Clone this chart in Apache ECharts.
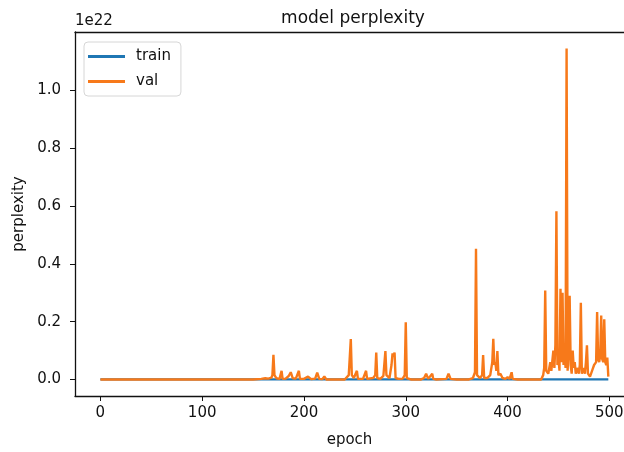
<!DOCTYPE html>
<html>
<head>
<meta charset="utf-8">
<script src="https://cdn.jsdelivr.net/npm/echarts@6/dist/echarts.min.js"></script>
<style>
  html, body { margin: 0; padding: 0; background: #fff; }
  #main { width: 624px; height: 452px; }
</style>
</head>
<body>
<div id="main"></div>
<script>
// values in units of 1e22
const trainEpochs = [0, 499]
const trainValues = [0, 0]

const valEpochs = [
  0, 150, 158, 162, 165, 168, 169, 170, 171, 173, 176, 178, 179, 182, 185, 187, 189, 192, 195, 196,
  200, 204, 207, 211, 213, 215, 218, 220, 222, 240, 244, 246, 247, 249, 252, 253, 258, 261, 262, 268,
  270, 271, 272, 275, 278, 280, 281, 284, 286, 287, 288, 289, 290, 293, 297, 299, 300, 301, 305, 315,
  318, 320, 322, 326, 327, 330, 340, 342, 344, 350, 362, 366, 368, 369, 370, 373, 375, 376, 377, 380,
  383, 385, 386, 387, 388, 389, 390, 391, 393, 395, 398, 400, 402, 404, 405, 410, 433, 435, 436, 437,
  438, 440, 442, 443, 445, 446, 447, 448, 449, 450, 451, 452, 453, 454, 455, 456, 457, 458, 459, 460,
  461, 462, 463, 464, 465, 466, 467, 469, 470, 471, 472, 473, 475, 476, 477, 478, 479, 481, 483, 485,
  487, 488, 489, 490, 491, 492, 493, 494, 495, 496, 497, 498, 499
]
const valValues = [
  0, 0, 0.002, 0.004, 0.003, 0.006, 0.015, 0.085, 0.015, 0.004, 0.002, 0.03, 0.002, 0.003, 0.012, 0.025, 0.004, 0.003, 0.03, 0.002,
  0.002, 0.01, 0.001, 0.003, 0.024, 0.002, 0.001, 0.01, 0, 0, 0.015, 0.14, 0.015, 0.005, 0.03, 0.002, 0.002, 0.03, 0.002, 0.005,
  0.015, 0.093, 0.005, 0.002, 0.012, 0.098, 0.015, 0.005, 0.05, 0.09, 0.08, 0.093, 0.005, 0.002, 0.003, 0.015, 0.198, 0.005, 0, 0,
  0.005, 0.02, 0.002, 0.02, 0.002, 0, 0.002, 0.02, 0.002, 0, 0, 0.005, 0.025, 0.452, 0.015, 0.005, 0.015, 0.084, 0.005, 0.005,
  0.015, 0.06, 0.141, 0.05, 0.06, 0.03, 0.098, 0.015, 0.02, 0.005, 0.002, 0.008, 0.002, 0.025, 0.002, 0, 0, 0.015, 0.04, 0.308,
  0.03, 0.02, 0.06, 0.03, 0.1, 0.04, 0.12, 0.582, 0.05, 0.08, 0.03, 0.314, 0.06, 0.3, 0.05, 0.1, 0.04, 1.145, 0.03, 0.1,
  0.29, 0.05, 0.02, 0.1, 0.04, 0.06, 0.02, 0.04, 0.02, 0.05, 0.265, 0.02, 0.04, 0.02, 0.06, 0.118, 0.02, 0.01, 0.03, 0.05,
  0.06, 0.233, 0.07, 0.06, 0.08, 0.221, 0.07, 0.06, 0.208, 0.06, 0.05, 0.076, 0.01
]

const xTicks = [0, 100, 200, 300, 400, 500]
const yTicks = [0, 0.2, 0.4, 0.6, 0.8, 1.0]

const font = 'DejaVu Sans'
const chart = echarts.init(document.getElementById('main'))

const pairs = (xs, ys) => xs.map((x, i) => [x, ys[i]])

// the plot frame is cut off at the right edge of the picture, so no right spine
const xMin = -24.95
const xMax = 514.4
const frame = { show: true, onZero: false, lineStyle: { color: '#111', width: 1.3 } }

chart.setOption({
  animation: false,
  title: {
    text: 'model perplexity',
    left: 348,
    top: 5,
    textAlign: 'center',
    textStyle: { fontFamily: font, fontSize: 17, fontWeight: 'normal', color: '#111' }
  },
  grid: {
    left: 75,
    top: 32,
    right: 0,
    bottom: 56,
    show: false,
    containLabel: false,
    outerBoundsMode: 'none'
  },
  legend: {
    orient: 'vertical',
    left: 84,
    top: 42,
    padding: [7, 10, 7, 4],
    itemGap: 10,
    itemWidth: 37,
    itemHeight: 3,
    backgroundColor: '#fff',
    borderColor: '#d6d6d6',
    borderWidth: 1,
    borderRadius: 4,
    textStyle: { fontFamily: font, fontSize: 15, color: '#111', padding: [0, 0, 0, 6] },
    data: [
      { name: 'train', icon: 'rect' },
      { name: 'val', icon: 'rect' }
    ]
  },
  graphic: [
    {
      type: 'text',
      left: 75,
      top: 14,
      style: { text: '1e22', font: '15px "DejaVu Sans"', fill: '#111' }
    }
  ],
  xAxis: [
    {
      type: 'value',
      position: 'bottom',
      min: xMin,
      max: xMax,
      name: 'epoch',
      nameLocation: 'middle',
      nameGap: 37,
      nameTextStyle: { fontFamily: font, fontSize: 15, color: '#111' },
      axisLine: frame,
      axisTick: { show: true, inside: false, length: 5, customValues: xTicks, lineStyle: { color: '#111' } },
      axisLabel: { customValues: xTicks, fontFamily: font, fontSize: 15, color: '#111', margin: 10 },
      splitLine: { show: false }
    },
    {
      type: 'value',
      position: 'top',
      min: xMin,
      max: xMax,
      axisLine: frame,
      axisTick: { show: false },
      axisLabel: { show: false },
      splitLine: { show: false }
    }
  ],
  yAxis: {
    type: 'value',
    min: -0.05725,
    max: 1.20225,
    name: 'perplexity',
    nameLocation: 'middle',
    nameGap: 43,
    nameTextStyle: { fontFamily: font, fontSize: 15, color: '#111' },
    axisLine: frame,
    axisTick: { show: true, inside: false, length: 5, customValues: yTicks, lineStyle: { color: '#111' } },
    axisLabel: {
      customValues: yTicks,
      fontFamily: font,
      fontSize: 15,
      color: '#111',
      margin: 14,
      formatter: v => v.toFixed(1)
    },
    splitLine: { show: false }
  },
  series: [
    {
      name: 'train',
      type: 'line',
      showSymbol: false,
      color: '#1f77b4',
      lineStyle: { width: 2.2, color: '#1f77b4' },
      data: pairs(trainEpochs, trainValues)
    },
    {
      name: 'val',
      type: 'line',
      showSymbol: false,
      color: '#f7791a',
      lineStyle: { width: 2.4, color: '#f7791a' },
      data: pairs(valEpochs, valValues)
    }
  ]
})
</script>
</body>
</html>
